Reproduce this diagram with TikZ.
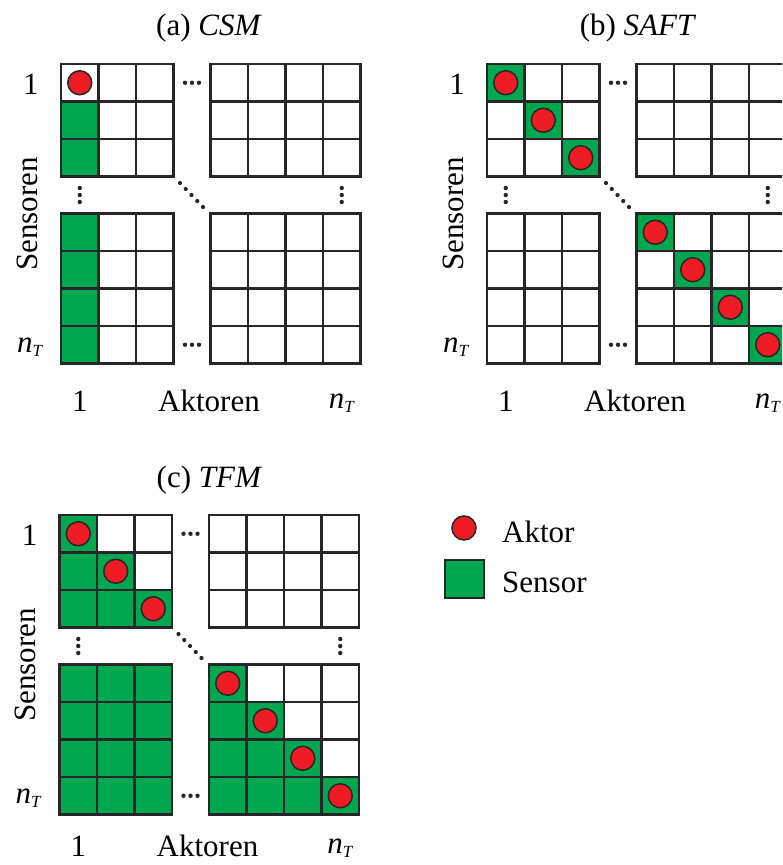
\documentclass[tikz,border=0pt]{standalone}
\usepackage{fontspec}
\setmainfont{Liberation Serif}
\definecolor{sgreen}{RGB}{0,166,80}
\definecolor{ared}{RGB}{237,28,36}
\tikzset{
  gridline/.style={line width=2.2pt, draw=black!85},
  aktorc/.style={fill=ared, draw=black!85, line width=1.5pt},
  dotmark/.style={fill=black!85},
  lbl/.style={inner sep=0pt, font=\fontsize{31}{36}\selectfont},
}
\newcommand{\gcell}[2]{\fill[sgreen] (#1,#2) rectangle ++(37.5,37.5);}
\newcommand{\akt}[2]{\draw[aktorc] (#1+18.75,#2+18.75) circle[radius=12pt];}
% block: x0, y0, ncols, nrows
\newcommand{\blk}[4]{%
  \foreach \ii in {1,...,\numexpr#3-1\relax} \draw[gridline] (#1+\ii*37.5,#2) -- ++(0,#4*37.5);
  \foreach \jj in {1,...,\numexpr#4-1\relax} \draw[gridline] (#1,#2+\jj*37.5) -- ++(#3*37.5,0);
  \draw[gridline] (#1,#2) rectangle ++(#3*37.5,#4*37.5);}
\newcommand{\ntlabel}{\textit{n}\raisebox{-0.16em}{\fontsize{17}{18}\selectfont\textit{T}}}
% common frame of a panel: grids, dots, labels; #1 = baseline of bottom labels
\newcommand{\panelframe}[1]{%
  \blk{0}{0}{3}{3}
  \blk{149.5}{0}{4}{3}
  \blk{0}{149.5}{3}{4}
  \blk{149.5}{149.5}{4}{4}
  \foreach \xx in {124,131,138} {
    \fill[dotmark] (\xx,18.75) circle[radius=2.2pt];
    \fill[dotmark] (\xx,280.75) circle[radius=2.2pt];
    \fill[dotmark] (18.75,\xx) circle[radius=2.2pt];
    \fill[dotmark] (280.75,\xx) circle[radius=2.2pt];}
  \foreach \kk in {0,...,4} \fill[dotmark] (119+\kk*5.75,119+\kk*6) circle[radius=2.1pt];
  \node[lbl, anchor=base] (one) at (-30,30) {1};
  \node[lbl, anchor=base] (nt) at (-31,288) {\ntlabel};
  \node[lbl, rotate=90] (sens) at (-34,150) {Sensoren};
  \node[lbl, anchor=base] (oneb) at (18.75,#1) {1};
  \node[lbl, anchor=base] (akt) at (148,#1) {Aktoren};
  \node[lbl, anchor=base] (ntb) at (280.75,#1-3) {\ntlabel};
}
\begin{document}
\begin{tikzpicture}[x=1pt,y=-1pt]
\path[use as bounding box, clip] (0,0) rectangle (782,865);
\fill[white] (0,0) rectangle (782,865);
% (a) CSM
\begin{scope}[shift={(61,64)}]
  \gcell{0}{37.5}\gcell{0}{75}
  \foreach \r in {0,1,2,3} {\gcell{0}{149.5+\r*37.5}}
  \panelframe{347}
  \akt{0}{0}
  \node[lbl, anchor=base] (ta) at (148,-29) {(a) \textit{CSM}};
\end{scope}
% (b) SAFT
\begin{scope}[shift={(487,64)}]
  \foreach \r in {0,1,2} {\gcell{\r*37.5}{\r*37.5}}
  \foreach \r in {0,1,2,3} {\gcell{149.5+\r*37.5}{149.5+\r*37.5}}
  \panelframe{347}
  \foreach \r in {0,1,2} {\akt{\r*37.5}{\r*37.5}}
  \foreach \r in {0,1,2,3} {\akt{149.5+\r*37.5}{149.5+\r*37.5}}
  \node[lbl, anchor=base] (tb) at (151,-29) {(b) \textit{SAFT}};
\end{scope}
% (c) TFM
\begin{scope}[shift={(59.5,515)}]
  \foreach \r in {0,1,2} {\foreach \c in {0,...,\r} {\gcell{\c*37.5}{\r*37.5}}}
  \foreach \r in {0,1,2,3} {\foreach \c in {0,1,2} {\gcell{\c*37.5}{149.5+\r*37.5}}}
  \foreach \r in {0,1,2,3} {\foreach \c in {0,...,\r} {\gcell{149.5+\c*37.5}{149.5+\r*37.5}}}
  \panelframe{341}
  \foreach \r in {0,1,2} {\akt{\r*37.5}{\r*37.5}}
  \foreach \r in {0,1,2,3} {\akt{149.5+\r*37.5}{149.5+\r*37.5}}
  \node[lbl, anchor=base] (tc) at (150,-28) {(c) \textit{TFM}};
\end{scope}
% legend
\draw[aktorc] (464,528) circle[radius=12pt];
\node[lbl, anchor=base west] (la) at (502,542) {Aktor};
\fill[sgreen] (445,560) rectangle (484,598);
\draw[gridline] (445,560) rectangle (484,598);
\node[lbl, anchor=base west] (ls) at (502,592) {Sensor};
\end{tikzpicture}
\end{document}
